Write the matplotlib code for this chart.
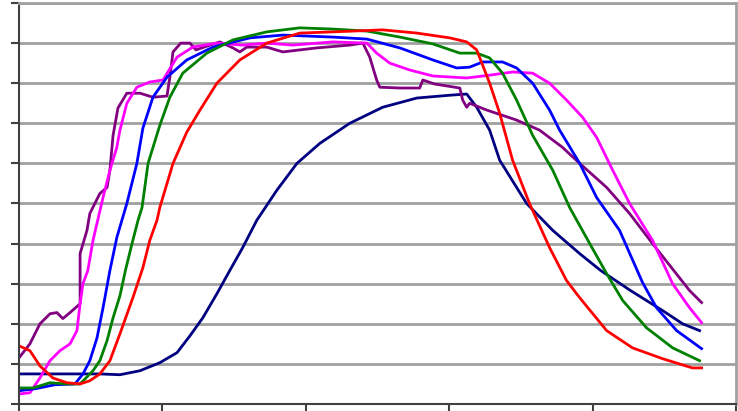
import matplotlib
matplotlib.use("Agg")
import matplotlib.pyplot as plt

# x on a 0-250 scale (5 tick intervals), y on a 0-10 scale (gridline every 1)
navy_x = [0, 28.2, 35.2, 42.2, 49.1, 55.1, 59.6, 64.1, 69, 73.5, 78, 82.9, 89.9, 96.9, 104.9,
          115.3, 126.8, 138.7, 150.2, 156.1, 159.6, 164.1, 167.6, 177, 186.1, 195.5, 202.8,
          213.2, 224.4, 231.4, 237.3]
navy_y = [0.75, 0.75, 0.73, 0.83, 1.03, 1.28, 1.7, 2.15, 2.75, 3.33, 3.9, 4.58, 5.33, 6.0, 6.5,
          7.0, 7.4, 7.63, 7.7, 7.73, 7.4, 6.83, 6.08, 5.0, 4.33, 3.75, 3.33,
          2.83, 2.33, 2.0, 1.83]

red_x = [0, 3.8, 7.3, 11.8, 16.7, 21.3, 24.7, 28.2, 31.7, 35.2, 39.7, 43.2, 45.6, 48.1, 49.1,
         53.7, 58.5, 63.1, 69, 77, 86.4, 97.9, 109.4, 126.8, 138.7, 150.2, 156.1, 159.6, 164.1,
         167.6, 172.1, 178, 185, 190.9, 195.5, 204.9, 213.9, 224.4, 234.8, 238]
red_y = [1.45, 1.33, 0.95, 0.65, 0.53, 0.5, 0.58, 0.75, 1.08, 1.75, 2.65, 3.4, 4.08, 4.58, 4.9,
         6.0, 6.78, 7.33, 8.0, 8.58, 9.0, 9.25, 9.28, 9.33, 9.25, 9.13, 9.03, 8.83, 8.0,
         7.25, 6.08, 5.0, 3.9, 3.08, 2.65, 1.83, 1.4, 1.13, 0.9, 0.9]

green_x = [0, 4.9, 10.8, 16.7, 21.3, 25.8, 28.2, 30.7, 32.8, 35.2, 37.1, 39.4, 41.5, 42.9, 45,
           49.1, 52.6, 57.1, 65.5, 74.6, 86.4, 97.9, 109.4, 121.3, 132.8, 144.3, 153.7, 159.6,
           164.1, 168.6, 173.5, 179.1, 186.1, 192, 199, 204.9, 210.5, 218.8, 227.9, 237.3]
green_y = [0.4, 0.4, 0.53, 0.5, 0.5, 0.83, 1.08, 1.58, 2.15, 2.7, 3.33, 4.0, 4.58, 4.9, 6.0,
           6.95, 7.65, 8.25, 8.75, 9.08, 9.28, 9.38, 9.35, 9.3, 9.15, 8.98, 8.75, 8.75,
           8.63, 8.25, 7.58, 6.7, 5.83, 4.9, 4.0, 3.25, 2.58, 1.9, 1.4, 1.08]

blue_x = [0, 5.6, 12.5, 19.5, 22.3, 24.7, 27.2, 29.3, 31.7, 34.1, 37.6, 41.1, 43.2, 46.7, 51.6,
          58.5, 67.6, 80.5, 92, 109.4, 121.3, 132.8, 144.3, 152.6, 157.1, 161.7, 168.6, 173.5,
          179.1, 185, 188.5, 195.5, 201.4, 209.4, 217.4, 222.3, 229.3, 238]
blue_y = [0.33, 0.38, 0.48, 0.5, 0.75, 1.08, 1.65, 2.4, 3.33, 4.15, 5.0, 6.0, 6.88, 7.65, 8.15,
          8.58, 8.9, 9.13, 9.2, 9.15, 9.1, 8.88, 8.58, 8.38, 8.4, 8.53, 8.53, 8.38,
          8.0, 7.33, 6.83, 6.0, 5.15, 4.33, 3.03, 2.4, 1.83, 1.38]

magenta_x = [0, 3.8, 7.3, 10.8, 14.3, 17.8, 20.2, 21.3, 22.3, 24, 25.8, 29.3, 31.7, 34.1, 35.2,
             37.6, 41.1, 45.6, 50.2, 55.1, 60.6, 69, 78, 86.4, 95.5, 109.4, 121.3, 124.7, 129.3,
             136.2, 144.3, 156.1, 164.1, 172.1, 179.1, 185, 190.9, 196.5, 201.4, 207, 212.9,
             220.9, 227.9, 233.8, 238]
magenta_y = [0.25, 0.28, 0.65, 1.08, 1.33, 1.5, 1.83, 2.5, 3.0, 3.33, 4.08, 5.15, 5.83, 6.4, 6.83,
             7.5, 7.9, 8.03, 8.08, 8.65, 8.9, 9.0, 8.95, 9.0, 8.95, 9.03, 9.0, 8.75, 8.5,
             8.33, 8.18, 8.13, 8.2, 8.28, 8.25, 8.0, 7.58, 7.15, 6.65, 5.83, 5.0,
             4.08, 3.0, 2.4, 2.03]

purple_x = [0, 3.8, 7.3, 10.8, 13.2, 15.3, 17.8, 21.3, 21.3, 23.7, 24.7, 28.2, 30.7, 31.7, 32.8,
            34.5, 37.6, 42.2, 46.7, 51.6, 52.6, 53.7, 56.4, 59.6, 61.7, 65.8, 70, 74.6, 77, 79.4,
            86.4, 92, 97.9, 103.8, 115.3, 119.9, 122.3, 124.7, 125.8, 132.8, 139.7, 140.8, 144.9,
            153.7, 154.7, 156.1, 157.1, 163.1, 173.5, 181.5, 189.5, 195.5, 204.9, 212.9, 220.9,
            233.8, 238]
purple_y = [1.15, 1.5, 2.0, 2.25, 2.28, 2.13, 2.28, 2.5, 3.75, 4.33, 4.75, 5.25, 5.4, 5.83, 6.7,
            7.38, 7.75, 7.75, 7.65, 7.68, 8.15, 8.78, 9.0, 9.0, 8.83, 8.93, 9.03, 8.88, 8.78, 8.9,
            8.9, 8.78, 8.83, 8.88, 8.95, 9.0, 8.65, 8.08, 7.9, 7.88, 7.88, 8.08, 7.98,
            7.88, 7.58, 7.4, 7.5, 7.33, 7.08, 6.83, 6.4, 6.0, 5.4, 4.75, 4.0,
            2.83, 2.53]

W, H = 738, 411
fig = plt.figure(figsize=(W / 100, H / 100), dpi=100)
# plot area: x 19..736 px, y 3..404 px
ax = fig.add_axes([19 / W, (H - 404) / H, (736 - 19) / W, (404 - 3) / H])

ax.set_xlim(0, 250)
ax.set_ylim(0, 10)
ax.set_xticks(range(0, 251, 50))
ax.set_yticks(range(0, 11))
ax.set_xticklabels([])
ax.set_yticklabels([])
ax.grid(True, axis="y", color="#a0a0a0", linewidth=2)
ax.set_axisbelow(True)

for side in ["top", "right"]:
    ax.spines[side].set_color("#a0a0a0")
    ax.spines[side].set_linewidth(2)
for side in ["left", "bottom"]:
    ax.spines[side].set_color("#404040")
    ax.spines[side].set_linewidth(1.5)
ax.tick_params(axis="both", direction="out", length=6, width=1.5, color="#404040")

lw = 2.0
ax.plot(navy_x, navy_y, color="#000080", lw=lw)
ax.plot(purple_x, purple_y, color="#800080", lw=lw)
ax.plot(magenta_x, magenta_y, color="#ff00ff", lw=lw)
ax.plot(blue_x, blue_y, color="#0000ff", lw=lw)
ax.plot(green_x, green_y, color="#008000", lw=lw)
ax.plot(red_x, red_y, color="#ff0000", lw=lw)

fig.savefig("out.png", dpi=100)
